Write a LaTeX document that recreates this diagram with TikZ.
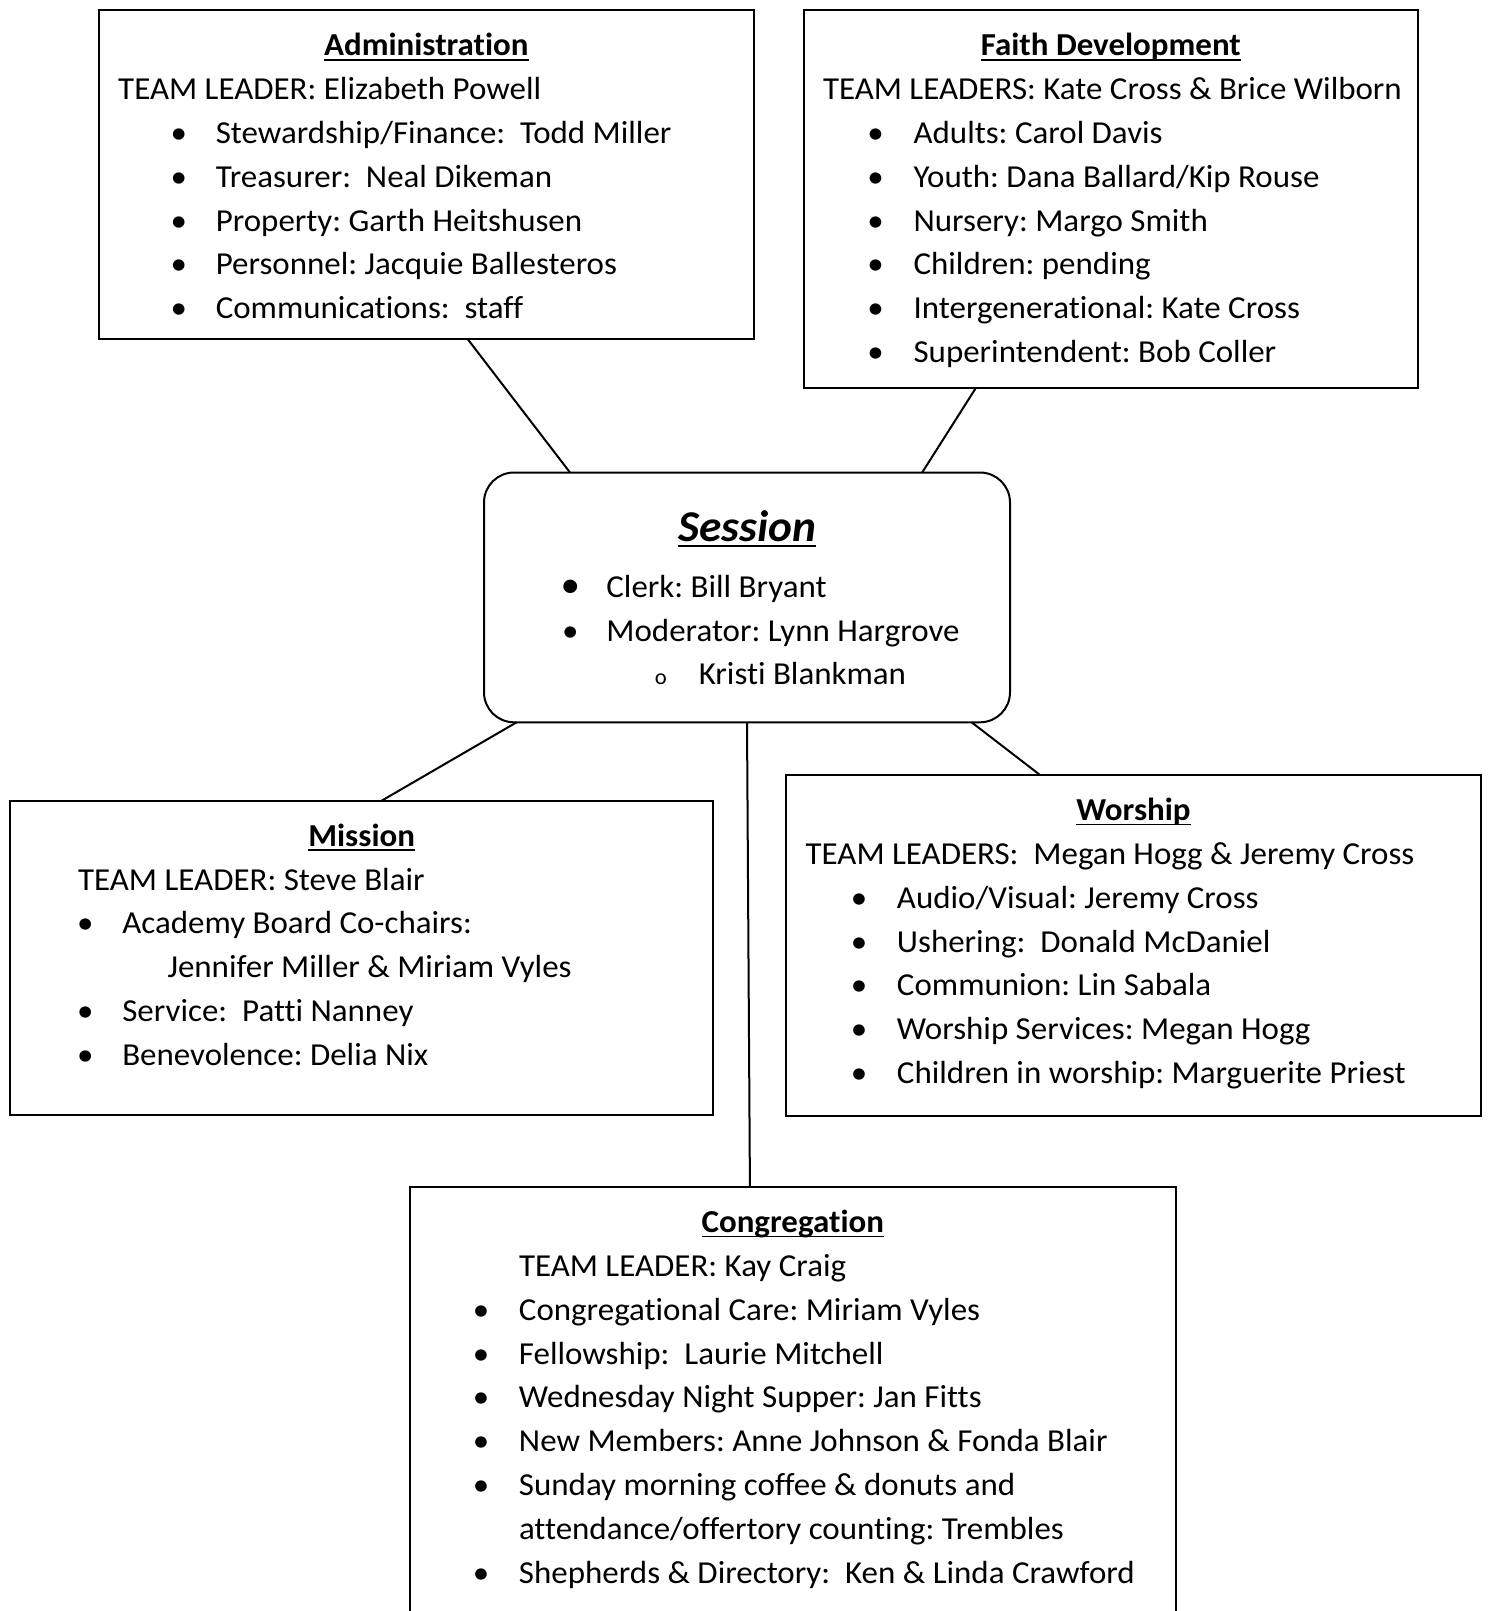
\documentclass[tikz,border=0pt]{standalone}
\usepackage{fontspec}
\setmainfont{Carlito}[Ligatures=NoCommon, FakeStretch=1.03]
\usetikzlibrary{calc}
\usetikzlibrary{positioning}
\tikzset{
    team/.style = {rectangle, draw=black, line width=1pt, inner sep=0pt, outer sep=0pt, anchor=north west, fill=white},
    session/.style = {team, rounded corners=15pt},
    link/.style = {line width=1pt, draw=black},
    every picture/.style={font issue=\fontsize{16pt}{21.9pt}\selectfont\frenchspacing},
    font issue/.style={execute at begin picture={#1}}
}
\newcommand{\undl}[1]{\setbox0\hbox{#1}\rlap{\rule[-2.4pt]{\wd0}{0.9pt}}\box0}
\newcommand{\boxtitle}[1]{\makebox[\linewidth]{\rule{0pt}{22.8pt}\textbf{\undl{#1}}}\par}
\newcommand{\tline}[2]{\hspace*{#1}#2\par}
\newcommand{\tbul}[3]{\hspace*{#1}\makebox[0pt]{\textbullet}\hspace*{\dimexpr#2-#1\relax}#3\par}

\begin{document}
\begin{tikzpicture}[x=0.5pt,y=-0.5pt]
\useasboundingbox (0,0) rectangle (1488,1611);
\node[team] at (98.6, 10.3) (admin) {\parbox[t][164.35pt][t]{327.7pt}{%
  \boxtitle{Administration}
  \tline{9.8pt}{TEAM LEADER: Elizabeth Powell}
  \tbul{40.1pt}{58.6pt}{Stewardship/Finance:~ Todd Miller}
  \tbul{40.1pt}{58.6pt}{Treasurer:~ Neal Dikeman}
  \tbul{40.1pt}{58.6pt}{Property: Garth Heitshusen}
  \tbul{40.1pt}{58.6pt}{Personnel: Jacquie Ballesteros}
  \tbul{40.1pt}{58.6pt}{Communications:~ staff}}};
\node[team] at (803.6, 10.3) (faith) {\parbox[t][189pt][t]{307.2pt}{%
  \boxtitle{Faith Development}
  \tline{9.7pt}{TEAM LEADERS: Kate Cross \& Brice Wilborn}
  \tbul{36pt}{55pt}{Adults: Carol Davis}
  \tbul{36pt}{55pt}{Youth: Dana Ballard/Kip Rouse}
  \tbul{36pt}{55pt}{Nursery: Margo Smith}
  \tbul{36pt}{55pt}{Children: pending}
  \tbul{36pt}{55pt}{Intergenerational: Kate Cross}
  \tbul{36pt}{55pt}{Superintendent: Bob Coller}}};
\node[session] at (484, 472.5) (session) {\parbox[t][124.9pt][t]{263pt}{%
  \makebox[\linewidth]{\rule{0pt}{34.7pt}{\fontsize{22pt}{22pt}\selectfont\bfseries\itshape\undl{Session}}}\par
  \vspace{5.75pt}
  \hspace*{43.2pt}\makebox[0pt]{\fontsize{19pt}{19pt}\selectfont\textbullet}\hspace*{18pt}Clerk: Bill Bryant\par
  \tbul{43.2pt}{61.2pt}{Moderator: Lynn Hargrove}
  \hspace*{88.4pt}\makebox[0pt]{\fontsize{11pt}{11pt}\selectfont o}\hspace*{19pt}Kristi Blankman\par}};
\node[team] at (10.3, 800.7) (mission) {\parbox[t][157.15pt][t]{351.35pt}{%
  \boxtitle{Mission}
  \tline{33.9pt}{TEAM LEADER: Steve Blair}
  \tbul{37.5pt}{56pt}{Academy Board Co-chairs:}
  \tline{78.6pt}{Jennifer Miller \& Miriam Vyles}
  \tbul{37.5pt}{56pt}{Service:~ Patti Nanney}
  \tbul{37.5pt}{56pt}{Benevolence: Delia Nix}}};
\node[team] at (786, 775) (worship) {\parbox[t][170.5pt][t]{347.5pt}{%
  \boxtitle{Worship}
  \tline{9.8pt}{TEAM LEADERS:~ Megan Hogg \& Jeremy Cross}
  \tbul{36.5pt}{55.5pt}{Audio/Visual: Jeremy Cross}
  \tbul{36.5pt}{55.5pt}{Ushering:~ Donald McDaniel}
  \tbul{36.5pt}{55.5pt}{Communion: Lin Sabala}
  \tbul{36.5pt}{55.5pt}{Worship Services: Megan Hogg}
  \tbul{36.5pt}{55.5pt}{Children in worship: Marguerite Priest}}};
\node[team] at (410, 1187) (congregation) {\parbox[t][215pt][t]{382.8pt}{%
  \boxtitle{Congregation}
  \tline{54.5pt}{TEAM LEADER: Kay Craig}
  \tbul{35.5pt}{54.5pt}{Congregational Care: Miriam Vyles}
  \tbul{35.5pt}{54.5pt}{Fellowship:~ Laurie Mitchell}
  \tbul{35.5pt}{54.5pt}{Wednesday Night Supper: Jan Fitts}
  \tbul{35.5pt}{54.5pt}{New Members: Anne Johnson \& Fonda Blair}
  \tbul{35.5pt}{54.5pt}{Sunday morning coffee \& donuts and}
  \tline{54.5pt}{attendance/offertory counting: Trembles}
  \tbul{35.5pt}{54.5pt}{Shepherds \& Directory:~ Ken \& Linda Crawford}}};
%
\draw[link] ($(admin.south west)!0.563!(admin.south east)$) -- ($(session.north west)!0.1635!(session.north east)$);
\draw[link] ($(faith.south west)!0.280!(faith.south east)$) -- ($(session.north west)!0.833!(session.north east)$);
\draw[link] ($(session.south west)!0.062!(session.south east)$) -- ($(mission.north west)!0.5285!(mission.north east)$);
\draw[link] ($(session.south west)!0.927!(session.south east)$) -- ($(worship.north west)!0.3655!(worship.north east)$);
\draw[link] (session.south) -- ($(congregation.north west)!0.444!(congregation.north east)$);
\end{tikzpicture}
\end{document}
